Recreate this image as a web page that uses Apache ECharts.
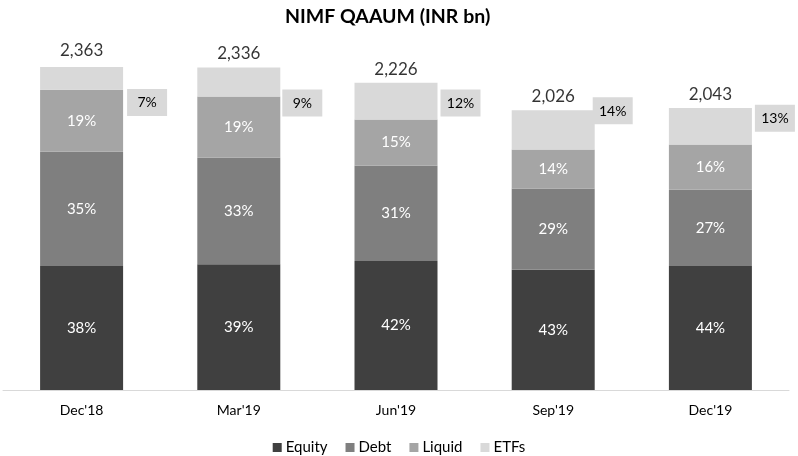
<!DOCTYPE html>
<html><head><meta charset="utf-8">
<script src="https://cdn.jsdelivr.net/npm/echarts@6/dist/echarts.min.js"></script>
<style>html,body{margin:0;padding:0;background:#fff}#c{width:798px;height:456px}</style>
</head><body><div id="c"></div>
<script>
const categories = ["Dec'18", "Mar'19", "Jun'19", "Sep'19", "Dec'19"];
const totals = [2363, 2336, 2226, 2026, 2043];
const equityPct = [38, 39, 42, 43, 44];
const debtPct = [35, 33, 31, 29, 27];
const liquidPct = [19, 19, 15, 14, 16];
const etfPct = [7, 9, 12, 14, 13];

// label placement of the ETF boxes (style only)
const etfBoxOffset = [[4, 24], [2, 21], [3, 2], [-2, -19], [3, -8]];

const FONT = 'Lato';
const seg = (pcts) => pcts.map((p, i) => ({ value: totals[i] * p / 100, pct: p }));

function inside(name, pcts, color) {
  return {
    name, type: 'bar', stack: 'a', barWidth: 83,
    data: seg(pcts),
    itemStyle: { color },
    label: { show: true, position: 'inside', color: '#ffffff', fontSize: 15, fontFamily: FONT,
      formatter: p => p.data.pct + '%' }
  };
}

const etfData = seg(etfPct).map((d, i) => ({
  ...d,
  label: { offset: etfBoxOffset[i] }
}));

const option = {
  animation: false,
  backgroundColor: '#fff',
  title: { text: 'NIMF QAAUM (INR bn)', left: 280, top: 2,
    textStyle: { fontFamily: FONT, fontWeight: 'bold', fontSize: 19.5, color: '#000' } },
  legend: {
    data: ['Equity', 'Debt', 'Liquid', 'ETFs'], top: 435, left: 'center',
    icon: 'rect', itemWidth: 9, itemHeight: 9, itemGap: 18,
    textStyle: { fontFamily: FONT, fontSize: 15, color: '#000', padding: [0, 0, 0, -1] }
  },
  grid: { left: 3, right: 9, top: 31, bottom: 66 },
  xAxis: { type: 'category', data: categories,
    axisLine: { lineStyle: { color: '#d9d9d9' } }, axisTick: { show: false },
    axisLabel: { fontFamily: FONT, fontSize: 14, color: '#000', margin: 13 } },
  yAxis: { type: 'value', min: 0, max: 2600, show: false, splitLine: { show: false } },
  series: [
    inside('Equity', equityPct, '#404040'),
    inside('Debt', debtPct, '#7f7f7f'),
    inside('Liquid', liquidPct, '#a5a5a5'),
    {
      name: 'ETFs', type: 'bar', stack: 'a', barWidth: 83,
      data: etfData,
      itemStyle: { color: '#d9d9d9' },
      label: { show: true, position: 'right', distance: 0,
        backgroundColor: '#d9d9d9', padding: [7, 4, 6, 4],
        formatter: p => '{t|' + p.data.pct + '%}',
        rich: { t: { width: 32, align: 'center', color: '#000', fontSize: 14, fontFamily: FONT } } }
    },
    {
      name: 'Total', type: 'scatter', data: totals, symbolSize: 0, silent: true,
      label: { show: true, position: 'top', distance: 5, fontSize: 17, fontFamily: FONT, color: '#000',
        formatter: p => p.value.toLocaleString('en-US') }
    }
  ]
};
echarts.init(document.getElementById('c')).setOption(option);
</script></body></html>
